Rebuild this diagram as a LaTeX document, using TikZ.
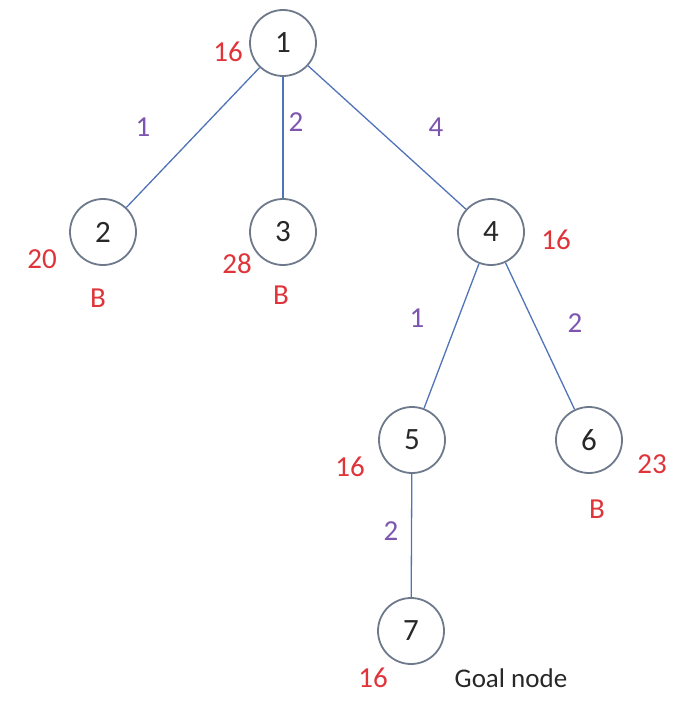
\documentclass[tikz,border=0pt]{standalone}
\usepackage{fontspec}
\setmainfont{Carlito}
\definecolor{edgeblue}{RGB}{80,115,185}
\definecolor{ringgrey}{RGB}{110,122,140}
\definecolor{costred}{RGB}{222,52,58}
\definecolor{weightpurple}{RGB}{125,85,175}
\definecolor{txtdark}{RGB}{40,40,40}
\begin{document}
\begin{tikzpicture}[x=1pt,y=-1pt,
  treenode/.style={circle,draw=ringgrey,line width=1.8pt,minimum size=66pt,inner sep=0pt,text=txtdark,font=\fontsize{31}{34}\selectfont},
  cost/.style={text=costred,font=\fontsize{29}{32}\selectfont,inner sep=0pt},
  weight/.style={text=weightpurple,font=\fontsize{29}{32}\selectfont,inner sep=0pt},
  note/.style={text=txtdark,font=\fontsize{27}{30}\selectfont,inner sep=0pt},
  edge/.style={draw=edgeblue,line width=1.3pt}]
\useasboundingbox (0,0) rectangle (687,701);
\node[treenode] (n1) at (283,43) {1};
\node[treenode] (n2) at (103,232) {2};
\node[treenode] (n3) at (283,232) {3};
\node[treenode] (n4) at (491,232) {4};
\node[treenode] (n5) at (412,440) {5};
\node[treenode] (n6) at (589,440) {6};
\node[treenode] (n7) at (411,631) {7};
\draw[edge] (n1) -- (n2);
\draw[edge] (n1) -- (n3);
\draw[edge] (n1) -- (n4);
\draw[edge] (n4) -- (n5);
\draw[edge] (n4) -- (n6);
\draw[edge] (n5) -- (n7);
\node[weight] (w12) at (143,127) {1};
\node[weight] (w13) at (296,122) {2};
\node[weight] (w14) at (436,127) {4};
\node[weight] (w45) at (417,318) {1};
\node[weight] (w46) at (575,323) {2};
\node[weight] (w57) at (391,531) {2};
\node[cost] (c1) at (228,52) {16};
\node[cost] (c2) at (42,259) {20};
\node[cost] (b2) at (98,298) {B};
\node[cost] (c3) at (237,264) {28};
\node[cost] (b3) at (281,295) {B};
\node[cost] (c4) at (556,240) {16};
\node[cost] (c5) at (350,467) {16};
\node[cost] (c6) at (652,464) {23};
\node[cost] (b6) at (597,509) {B};
\node[cost] (c7) at (373,678) {16};
\node[note,anchor=base] (goal) at (511,687) {Goal node};
\end{tikzpicture}
\end{document}
